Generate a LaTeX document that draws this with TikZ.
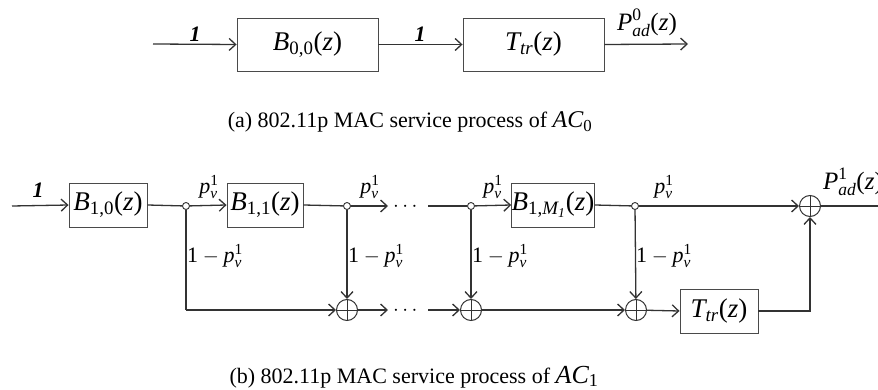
\documentclass[tikz,border=0pt]{standalone}
\usepackage{amsmath}
\usepackage{fontspec}
\setmainfont{Liberation Serif}
\usetikzlibrary{arrows.meta}
\definecolor{ink}{HTML}{333333}
\definecolor{boxink}{HTML}{4A4A4A}
\newcommand\fz[2]{$\textit{#1}_{#2}\textup{(}\textit{z}\textup{)}$}
\newcommand\pvl{$\textit{p}^{\textup{1}}_{\textit{v}}$}
\newcommand\omp{$\textup{1}-\textit{p}^{\textup{1}}_{\textit{v}}$}
\tikzset{
  blockbig/.style={draw=boxink, line width=0.9pt, minimum width=141pt, minimum height=53pt, inner sep=0pt, font=\fontsize{27}{30}\selectfont},
  blocksmall/.style={draw=boxink, line width=0.9pt, minimum width=78pt, minimum height=44pt, inner sep=0pt, font=\fontsize{27}{30}\selectfont},
  junction/.style={circle, draw=ink, fill=white, line width=0.9pt, minimum size=7pt, inner sep=0pt},
  sumnode/.style={circle, draw=ink, line width=1pt, minimum size=21pt, inner sep=0pt,
    path picture={\draw[line width=0.8pt] (path picture bounding box.north) -- (path picture bounding box.south)
      (path picture bounding box.west) -- (path picture bounding box.east);}},
  lbl/.style={font=\fontsize{22}{24}\selectfont, inner sep=0pt},
  captext/.style={font=\fontsize{22}{24}\selectfont, inner sep=0pt, anchor=base},
  flow/.style={draw=ink, line width=1.3pt},
  >={Straight Barb[length=6.5pt,width=12pt]}
}
\begin{document}
\begin{tikzpicture}[x=1pt,y=-1pt]
\useasboundingbox (0,0) rectangle (878,390);
% ---------- (a)
\coordinate (ain) at (153,44);
\node[blockbig] (B00) at (307.5,44.5) {\fz{B}{\textup{0,0}}};
\node[blockbig] (T0) at (533.5,44.5) {\fz{T}{\textit{tr}}};
\coordinate (aout) at (688,44);
\draw[flow,->] (ain) -- (B00.west);
\draw[flow,->] (B00.east) -- (T0.west);
\draw[flow,->] (T0.east) -- (aout);
\node[lbl] (one1) at (195,34) {\textbf{\textit{1}}};
\node[lbl] (one2) at (420,34) {\textbf{\textit{1}}};
\node[lbl, font=\fontsize{25}{28}\selectfont] (P0) at (647,23) {$\textit{P}^{\textup{0}}_{\textit{ad}}\textup{(}\textit{z}\textup{)}$};
\node[captext] (capa) at (410,128) {(a) 802.11p MAC service process of {\fontsize{24}{26}\selectfont$\textit{AC}_{\textup{0}}$}};
% ---------- (b) top line
\coordinate (bin) at (12,206);
\node[blocksmall] (B10) at (108,205) {\fz{B}{\textup{1,0}}};
\node[junction] (d1) at (186,206) {};
\node[blocksmall, minimum width=76pt] (B11) at (265,205) {\fz{B}{\textup{1,1}}};
\node[junction] (d2) at (347,206) {};
\coordinate (e2) at (388,206);
\node[lbl, anchor=base] (dots1) at (407,211.5) {$\cdots$};
\coordinate (s3) at (428,206);
\node[junction] (d3) at (471,206) {};
\node[blocksmall] (B1M) at (553,205) {$\textit{B}_{\textup{1,}\textit{M}_{\textit{1}}}\textup{(}\textit{z}\textup{)}$};
\node[junction] (d4) at (635,206) {};
\node[sumnode] (o5) at (810,206) {};
\coordinate (bout) at (878,206);
% bottom line
\coordinate (c1) at (186,310);
\node[sumnode] (o1) at (347,310) {};
\coordinate (e4) at (388,310);
\node[lbl, anchor=base] (dots2) at (407,315.5) {$\cdots$};
\coordinate (s5) at (428,310);
\node[sumnode] (o2) at (471,310) {};
\node[sumnode] (o3) at (636,310) {};
\node[blocksmall] (T1) at (719,311) {\fz{T}{\textit{tr}}};
% connectors
\draw[flow,->] (bin) -- (B10.west);
\draw[flow] (B10.east) -- (d1);
\draw[flow,->] (d1) -- (B11.west);
\draw[flow] (B11.east) -- (d2);
\draw[flow,->] (d2) -- (e2);
\draw[flow] (s3) -- (d3);
\draw[flow,->] (d3) -- (B1M.west);
\draw[flow] (B1M.east) -- (d4);
\draw[flow,->] (d4) -- (o5);
\draw[flow] (o5) -- (bout);
\draw[flow] (d1) -- (c1);
\draw[flow,->] (c1) -- (o1);
\draw[flow,->] (d2) -- (o1);
\draw[flow,->] (o1) -- (e4);
\draw[flow,->] (s5) -- (o2);
\draw[flow,->] (d3) -- (o2);
\draw[flow,->] (o2) -- (o3);
\draw[flow,->] (d4) -- (o3);
\draw[flow,->] (o3) -- (T1.west);
\draw[flow,->] (T1.east) -| (o5.south);
% labels
\node[lbl] (one3) at (38,190) {\textbf{\textit{1}}};
\node[lbl] (pv1) at (209,187) {\pvl};
\node[lbl] (pv2) at (370,187) {\pvl};
\node[lbl] (pv3) at (493,187) {\pvl};
\node[lbl] (pv4) at (664,187) {\pvl};
\node[lbl, anchor=west] (q1) at (187,256) {\omp};
\node[lbl, anchor=west] (q2) at (348,256) {\omp};
\node[lbl, anchor=west] (q3) at (472,256) {\omp};
\node[lbl, anchor=west] (q4) at (636,256) {\omp};
\node[lbl, anchor=west, font=\fontsize{25}{28}\selectfont] (P1) at (823,182) {$\textit{P}^{\textup{1}}_{\textit{ad}}\textup{(}\textit{z}\textup{)}$};
\node[captext] (capb) at (414,383) {(b) 802.11p MAC service process of {\fontsize{26}{28}\selectfont$\textit{AC}_{\textup{1}}$}};
\end{tikzpicture}
\end{document}
